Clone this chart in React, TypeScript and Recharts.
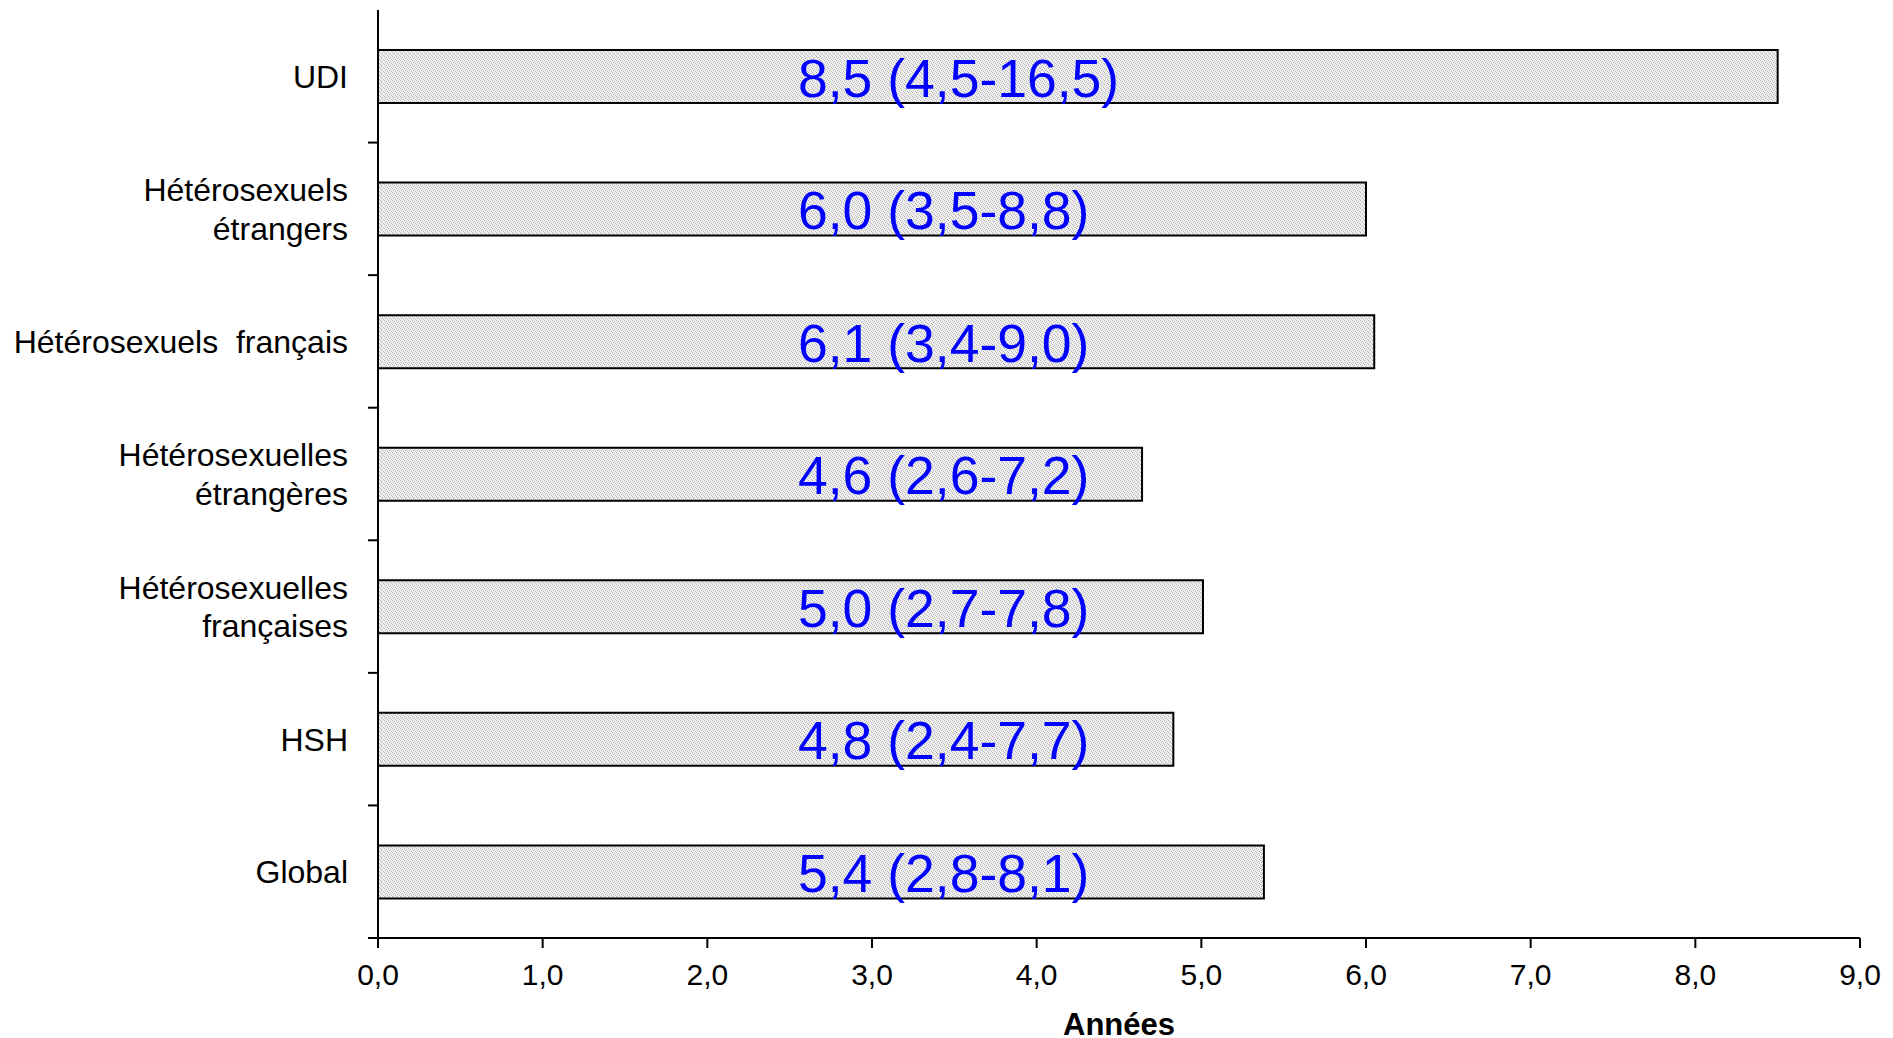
import { BarChart, Bar, XAxis, YAxis, LabelList } from "recharts";

const categories = [
  "UDI",
  "Hétérosexuels\nétrangers",
  "Hétérosexuels  français",
  "Hétérosexuelles\nétrangères",
  "Hétérosexuelles\nfrançaises",
  "HSH",
  "Global",
];
const barValues = [8.5, 6.0, 6.05, 4.64, 5.01, 4.83, 5.38];
const medians = [8.5, 6.0, 6.1, 4.6, 5.0, 4.8, 5.4];
const q1 = [4.5, 3.5, 3.4, 2.6, 2.7, 2.4, 2.8];
const q3 = [16.5, 8.8, 9.0, 7.2, 7.8, 7.7, 8.1];
const xTicks = [0, 1, 2, 3, 4, 5, 6, 7, 8, 9];

const W = 1893;
const H = 1038;
const Y_AXIS_W = 378;
const FONT = "'Liberation Sans', Arial, sans-serif";

const fmt = (v: number) => v.toFixed(1).replace(".", ",");

const data = categories.map((name, i) => ({
  name,
  value: barValues[i],
  label: `${fmt(medians[i])} (${fmt(q1[i])}-${fmt(q3[i])})`,
}));

function CategoryTick(props: any) {
  const { y, payload } = props;
  const lines = String(payload.value).split("\n");
  const lineH = 38.6;
  const half = payload.offset ?? 66.3;
  const startY = y - ((lines.length - 1) * lineH) / 2 + 11.5;
  return (
    <g>
      <line x1={Y_AXIS_W - 10} x2={Y_AXIS_W} y1={y + half} y2={y + half} stroke="#000" strokeWidth={2} />
      <text x={Y_AXIS_W - 30} y={startY} textAnchor="end" fontSize={32} fontFamily={FONT} fill="#000">
        {lines.map((l, i) => (
          <tspan key={i} x={Y_AXIS_W - 30} y={startY + i * lineH} style={{ whiteSpace: "pre" }}>
            {l}
          </tspan>
        ))}
      </text>
    </g>
  );
}

function ValueLabel(props: any) {
  const { x, y, height, index } = props;
  return (
    <text x={x + 420} y={y + height / 2 + 20} fontSize={53.5} fontFamily={FONT} fill="#0000FF">
      {data[index].label}
    </text>
  );
}

export default function App() {
  return (
    <div style={{ position: "absolute", left: 0, top: 0, background: "#fff" }}>
      <BarChart
        width={W}
        height={H}
        data={data}
        layout="vertical"
        margin={{ top: 10, right: 33, bottom: 0, left: 0 }}
      >
        <defs>
          <pattern id="stipple" width="4" height="4" patternUnits="userSpaceOnUse">
            <rect width="4" height="4" fill="#f0f0f0" />
            <rect x="0" y="0" width="1" height="1" fill="#b0b0b0" />
            <rect x="2" y="1" width="1" height="1" fill="#bcbcbc" />
            <rect x="1" y="2" width="1" height="1" fill="#b0b0b0" />
            <rect x="3" y="3" width="1" height="1" fill="#bcbcbc" />
          </pattern>
        </defs>
        <XAxis
          type="number"
          domain={[0, 9]}
          ticks={xTicks}
          interval={0}
          tickFormatter={fmt}
          height={100}
          tickSize={10}
          tickMargin={16}
          axisLine={{ stroke: "#000", strokeWidth: 2 }}
          tickLine={{ stroke: "#000", strokeWidth: 2 }}
          tick={{ fontSize: 30, fill: "#000", fontFamily: FONT }}
          label={{
            value: "Années",
            position: "insideBottom",
            offset: 3,
            fontSize: 31,
            fontWeight: "bold",
            fill: "#000",
            fontFamily: FONT,
          }}
        />
        <YAxis
          type="category"
          dataKey="name"
          width={Y_AXIS_W}
          tickLine={false}
          axisLine={{ stroke: "#000", strokeWidth: 2 }}
          tick={<CategoryTick />}
          interval={0}
        />
        <Bar
          dataKey="value"
          barSize={53}
          fill="url(#stipple)"
          stroke="#000"
          strokeWidth={2}
          isAnimationActive={false}
        >
          <LabelList dataKey="label" content={<ValueLabel />} />
        </Bar>
      </BarChart>
    </div>
  );
}
